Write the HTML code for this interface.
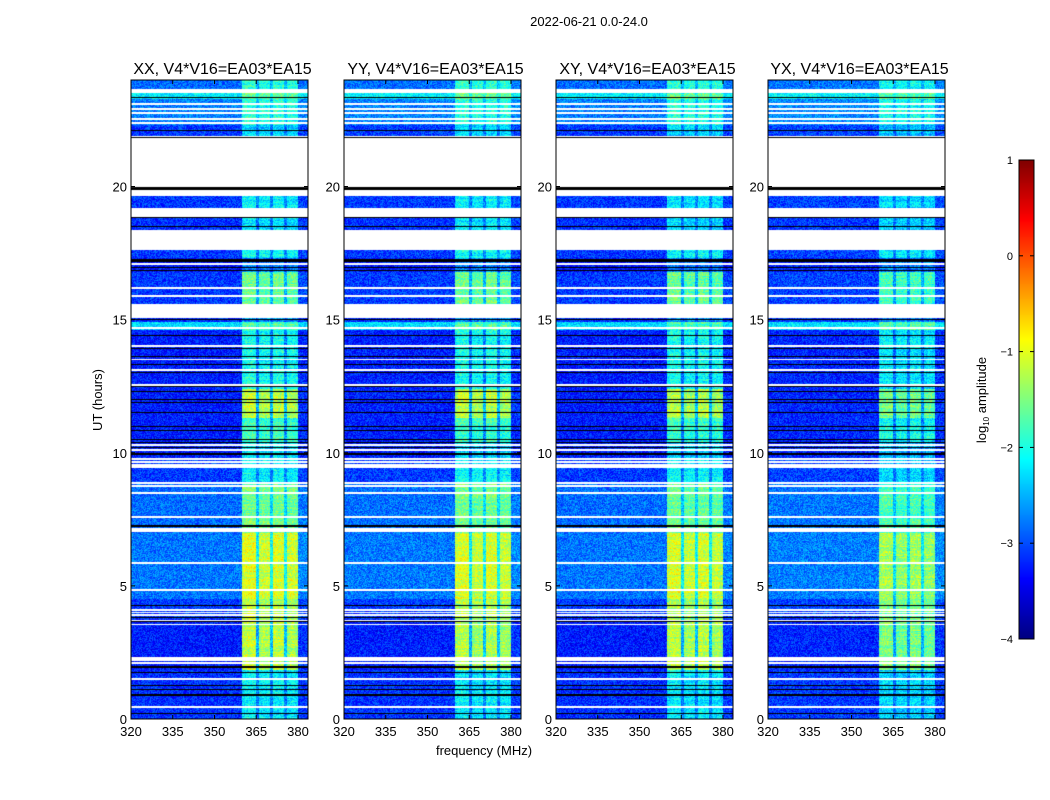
<!DOCTYPE html>
<html><head><meta charset="utf-8">
<style>
body{margin:0;background:#fff;width:1050px;height:800px;overflow:hidden;position:relative;font-family:"Liberation Sans",sans-serif;}
canvas{position:absolute;}
svg{position:absolute;left:0;top:0;}
</style></head>
<body>
<div>
<canvas id="c0" width="177" height="639" style="left:131px;top:80px"></canvas>
<canvas id="c1" width="177" height="639" style="left:344px;top:80px"></canvas>
<canvas id="c2" width="177" height="639" style="left:556px;top:80px"></canvas>
<canvas id="c3" width="177" height="639" style="left:768px;top:80px"></canvas>
<canvas id="cb" width="15" height="479" style="left:1019px;top:160px"></canvas>
<svg id="ax" width="1050" height="800"></svg>
</div>
<script>
// ---- data ----
const panelTitles = ["XX, V4*V16=EA03*EA15","YY, V4*V16=EA03*EA15","XY, V4*V16=EA03*EA15","YX, V4*V16=EA03*EA15"];
const panelRfiScale = [1.0, 0.97, 0.97, 0.8];
const panelBaseOffset = [0, 0.02, 0, 0.05];
const xTicks = [320,335,350,365,380];
const yTicks = [0,5,10,15,20];
const cbTicks = [1,0,-1,-2,-3,-4];
// channel RFI profile, 1 MHz channels from 320 to 384 MHz
const chanProfile = [0,0,0,0,0,0,0,0,0,0, 0,0,0,0,0,0,0,0,0,0, 0,0,0,0,0,0,0,0,0,0, 0,0,0,0,0,0,0,0,0,0,
  0.95,1,1,1,1, 0.35, 0.9,0.95,0.9,0.95, 0.4, 1,1,0.95,1, 0.4, 0.9,0.95,0.95,0.9, 0.05,0.05,0.05,0.05];
// time segments (hours)
const segStart = [0, 1.85,3.75,4.5, 7.0, 8.9, 9.8, 10.4,11.3,12.4,14.6,14.9,15.05,15.6,16.8,17.3,17.6,18.35,18.8,19.2,19.65,19.9,20.0,21.9,22.3,23.3,23.5,23.65];
const segEnd   = [1.85,3.75,4.5, 7.0, 8.9, 9.8, 10.4,11.3,12.4,14.6,14.9,15.05,15.6,16.8,17.3,17.6,18.35,18.8,19.2,19.65,19.9,20.0,21.9,22.3,23.3,23.5,23.65,24];
const segKind  = ["d","d","d","d","d","d","d","d","d","d","d","d","w","d","d","d","w","d","w","d","w","k","w","d","d","d","w","d"];
const segBase  = [-3.15,-3.25,-3.1,-2.8,-2.85,-3.1,-3.25,-3.25,-3.25,-3.25,-2.3,-3.15,0,-3.1,-3.3,-3.1,0,-3.15,0,-3.1,0,0,0,-3.1,-2.75,-2.2,0,-2.85];
const segRfi   = [1.0, 2.1, 1.9, 1.8,1.3, 1.0, 1.0, 1.45, 2.1, 1.25, 0.6, 0.5, 0, 1.55, 0.6, 1.05, 0, 0.95, 0, 0.95, 0, 0, 0, 0.8, 0.85, 0.6, 0, 0.95];
const whiteLines = [0.45,1.5,2.1,2.2,2.3,3.55,3.7,3.9,4.0,4.1,4.85,5.85,7.05,7.15,7.6,8.5,8.75,8.85,9.45,9.55,9.65,9.75,10.1,10.3,12.55,13.1,13.5,14.0,14.7,15.9,16.2,17.1,22.4,22.55,22.75,22.9,23.1];
const blackLines = [0.2,0.9,1.1,1.25,1.75,1.95,3.65,3.8,4.25,7.25,9.95,10.2,10.4,10.5,10.85,11.0,11.5,11.9,12.0,12.3,12.5,13.0,13.3,13.6,13.9,14.4,15.0,16.85,16.95,17.2,17.25,18.5,18.85,19.9,21.85,22.1,23.35];

// ---- scales ----
const X0=320, X1=383.6, Y0=0, Y1=24, PW=177, PH=639;
const xs = f => (f-X0)/(X1-X0)*PW;
const ys = h => PH-(h-Y0)/(Y1-Y0)*PH;
function jet(v){const t=Math.max(0,Math.min(1,(v+4)/5));const c=x=>Math.round(255*Math.max(0,Math.min(1,x)));
  return [c(1.5-Math.abs(4*t-3)),c(1.5-Math.abs(4*t-2)),c(1.5-Math.abs(4*t-1))];}
function hash(a,b,c){let h=(a*374761393+b*668265263+c*2147483647)|0;h=(h^(h>>>13))*1274126177|0;return ((h^(h>>>16))>>>0)/4294967296;}

for(let p=0;p<4;p++){
  const cv=document.getElementById('c'+p),ctx=cv.getContext('2d'),img=ctx.createImageData(PW,PH);
  for(let y=0;y<PH;y++){
    const h=Y1-(y+0.5)/PH*(Y1-Y0);
    let kind='d',base=-3.2,rfi=0;
    for(let s=0;s<segStart.length;s++){if(h>=segStart[s]&&h<segEnd[s]){kind=segKind[s];base=segBase[s];rfi=segRfi[s];break;}}
    for(const w of whiteLines){if(Math.abs(h-w)<0.035)kind='w';}
    for(const b of blackLines){if(Math.abs(h-b)<0.022)kind='k';}
    const rowN=(hash(y,7,p)-0.5)*0.3;
    for(let x=0;x<PW;x++){
      const i=(y*PW+x)*4;let col;
      if(kind==='w')col=[255,255,255];else if(kind==='k')col=[0,0,0];
      else{const f=X0+(x+0.5)/PW*(X1-X0);const ch=Math.min(chanProfile.length-1,Math.floor(f-320));
        const v=base+panelBaseOffset[p]+rfi*panelRfiScale[p]*chanProfile[ch]+rowN*chanProfile[ch]+(hash(x,y,p+3)-0.5)*0.7;
        col=jet(v);}
      img.data[i]=col[0];img.data[i+1]=col[1];img.data[i+2]=col[2];img.data[i+3]=255;
    }
  }
  ctx.putImageData(img,0,0);
}
// colorbar
{const cv=document.getElementById('cb'),ctx=cv.getContext('2d');
 for(let y=0;y<479;y++){const c=jet(1-(y+0.5)/479*5);ctx.fillStyle=`rgb(${c[0]},${c[1]},${c[2]})`;ctx.fillRect(0,y,15,1);}}

// ---- axes ----
const svg=document.getElementById('ax');const NS='http://www.w3.org/2000/svg';
function mk(tag,attrs,txt){const e=document.createElementNS(NS,tag);for(const k in attrs)e.setAttribute(k,attrs[k]);if(txt!==undefined)e.textContent=txt;svg.appendChild(e);return e;}
const lefts=[131,344,556,768];
let e=mk('text',{x:589,y:26,'text-anchor':'middle','font-size':13,fill:'#000'},'2022-06-21 0.0-24.0');


lefts.forEach((L,p)=>{
  let t=mk('text',{x:L+PW/2+3,y:74,'text-anchor':'middle','font-size':16,fill:'#000'},panelTitles[p]);
  
  
  let r=mk('rect',{x:L,y:80,width:PW,height:PH,fill:'none',stroke:'#000','stroke-width':1});
  
  
  xTicks.forEach(v=>{const x=L+xs(v);
    mk('line',{x1:x,x2:x,y1:719,y2:715,stroke:'#000'});mk('line',{x1:x,x2:x,y1:80,y2:84,stroke:'#000'});
    let l=mk('text',{x:x,y:736,'text-anchor':'middle','font-size':13,fill:'#000'},String(v));
    
    });
  yTicks.forEach(v=>{const y=80+ys(v);
    mk('line',{x1:L,x2:L+4,y1:y,y2:y,stroke:'#000'});mk('line',{x1:L+PW-4,x2:L+PW,y1:y,y2:y,stroke:'#000'});
    let l=mk('text',{x:L-4,y:y+5,'text-anchor':'end','font-size':13,fill:'#000'},String(v));
    
    });
});
e=mk('text',{x:0,y:0,'text-anchor':'middle','font-size':13,fill:'#000',transform:'translate(102,400) rotate(-90)'},'UT (hours)');


e=mk('text',{x:484,y:755,'text-anchor':'middle','font-size':13,fill:'#000'},'frequency (MHz)');


e=mk('rect',{x:1019,y:160,width:15,height:479,fill:'none',stroke:'#000'});


cbTicks.forEach(v=>{const y=160+(1-v)/5*479;
  mk('line',{x1:1019,x2:1023,y1:y,y2:y,stroke:'#000'});mk('line',{x1:1030,x2:1034,y1:y,y2:y,stroke:'#000'});
  let l=mk('text',{x:1013,y:y+4,'text-anchor':'end','font-size':11,fill:'#000'},v<0?'\u2212'+(-v):String(v));
  
  });
e=mk('text',{x:0,y:0,'text-anchor':'middle','font-size':13,fill:'#000',transform:'translate(986,400) rotate(-90)'});
e.innerHTML='log<tspan font-size="8" dy="3">10</tspan><tspan dy="-3"> amplitude</tspan>';


</script>
</body></html>
